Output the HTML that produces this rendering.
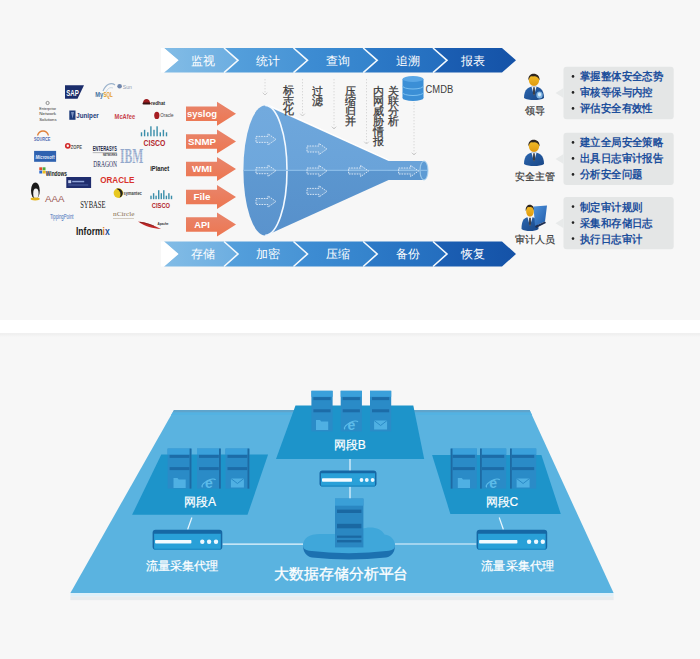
<!DOCTYPE html>
<html><head><meta charset="utf-8">
<style>
html,body{margin:0;padding:0;}
body{width:700px;height:659px;overflow:hidden;background:#f7f7f7;position:relative;font-family:"Liberation Sans", sans-serif;}
svg{position:absolute;left:0;top:0;}
.bt{font-family:"Liberation Sans", sans-serif;font-size:12px;fill:#fff;text-anchor:middle;}
.ot{font-family:"Liberation Sans", sans-serif;font-size:9.6px;font-weight:bold;fill:#fff;text-anchor:middle;}
.cm{font-family:"Liberation Sans", sans-serif;font-size:10px;fill:#3c3c3c;}
.pl{font-family:"Liberation Sans", sans-serif;font-size:10px;stroke:#3a3a3a;stroke-width:0.2px;fill:#3a3a3a;text-anchor:middle;}
.bb{font-family:"Liberation Sans", sans-serif;font-size:10.6px;font-weight:bold;fill:#1d4f9c;}
.nt{font-family:"Liberation Sans", sans-serif;font-size:12px;stroke:#fff;stroke-width:0.2px;fill:#fff;text-anchor:middle;}
.ct{font-family:"Liberation Sans", sans-serif;font-size:12px;stroke:#fff;stroke-width:0.2px;fill:#fff;text-anchor:middle;}
.bigt{font-family:"Liberation Sans", sans-serif;font-size:14.8px;stroke:#fff;stroke-width:0.3px;fill:#fff;text-anchor:middle;}
.vt{position:absolute;font-size:10.5px;line-height:10px;color:#383838;width:12px;-webkit-text-stroke:0.25px #383838;}
</style></head><body>
<svg width="700" height="659" viewBox="0 0 700 659">
<defs>
<linearGradient id="seg0" x1="164.0" y1="0" x2="244.0" y2="0" gradientUnits="userSpaceOnUse"><stop offset="0" stop-color="#82bce6"/><stop offset="1" stop-color="#6aace0"/></linearGradient>
<linearGradient id="seg1" x1="224.0" y1="0" x2="304.0" y2="0" gradientUnits="userSpaceOnUse"><stop offset="0" stop-color="#55a0dc"/><stop offset="1" stop-color="#4894d5"/></linearGradient>
<linearGradient id="seg2" x1="293.5" y1="0" x2="373.5" y2="0" gradientUnits="userSpaceOnUse"><stop offset="0" stop-color="#3f8ed4"/><stop offset="1" stop-color="#3483cc"/></linearGradient>
<linearGradient id="seg3" x1="363.2" y1="0" x2="443.2" y2="0" gradientUnits="userSpaceOnUse"><stop offset="0" stop-color="#2d7ac7"/><stop offset="1" stop-color="#246ebf"/></linearGradient>
<linearGradient id="seg4" x1="433.0" y1="0" x2="513.0" y2="0" gradientUnits="userSpaceOnUse"><stop offset="0" stop-color="#1c60b4"/><stop offset="1" stop-color="#1553a8"/></linearGradient>
<linearGradient id="gsuit" x1="0" y1="0" x2="1" y2="1"><stop offset="0" stop-color="#2a66b0"/><stop offset="1" stop-color="#1a4786"/></linearGradient>
<linearGradient id="gface" x1="0" y1="0" x2="0" y2="1"><stop offset="0" stop-color="#f4c02a"/><stop offset="1" stop-color="#e09a10"/></linearGradient>
<linearGradient id="glap" x1="0" y1="0" x2="1" y2="1"><stop offset="0" stop-color="#4f93dc"/><stop offset="1" stop-color="#1f5aa8"/></linearGradient>
<linearGradient id="gshadow" x1="0" y1="0" x2="0" y2="1"><stop offset="0" stop-color="#ededed"/><stop offset="1" stop-color="#f7f7f7"/></linearGradient>
<linearGradient id="gor" x1="0" y1="0" x2="0" y2="1"><stop offset="0" stop-color="#e8856c"/><stop offset="1" stop-color="#ed7650"/></linearGradient>
<linearGradient id="gbar" x1="164" y1="0" x2="516" y2="0" gradientUnits="userSpaceOnUse">
<stop offset="0" stop-color="#7ab8e5"/><stop offset="0.5" stop-color="#3f8fd3"/><stop offset="1" stop-color="#1553a8"/>
</linearGradient>
<linearGradient id="gfun" x1="0" y1="105" x2="0" y2="235" gradientUnits="userSpaceOnUse">
<stop offset="0" stop-color="#6ea7dc"/><stop offset="0.5" stop-color="#6aa3d9"/><stop offset="0.5" stop-color="#5b96cf"/><stop offset="1" stop-color="#5790cb"/>
</linearGradient>
<linearGradient id="gtube" x1="0" y1="161" x2="0" y2="180" gradientUnits="userSpaceOnUse">
<stop offset="0" stop-color="#6aa3d9"/><stop offset="0.5" stop-color="#6aa3d9"/><stop offset="0.5" stop-color="#5b96cf"/><stop offset="1" stop-color="#5b96cf"/>
</linearGradient>
<linearGradient id="gell" x1="0" y1="105" x2="0" y2="235" gradientUnits="userSpaceOnUse">
<stop offset="0" stop-color="#72aade"/><stop offset="0.5" stop-color="#6ea7dc"/><stop offset="0.5" stop-color="#5f99d1"/><stop offset="1" stop-color="#5a93cd"/>
</linearGradient>
</defs>
<rect x="0" y="320" width="700" height="13.2" fill="#ffffff"/>
<rect x="0" y="333.2" width="700" height="4" fill="url(#gshadow)"/>
<polygon points="164.0,48.0 224.0,48.0 238.0,60.3 224.0,72.6 164.0,72.6 178.0,60.3" fill="url(#seg0)"/>
<polygon points="224.0,48.0 293.5,48.0 307.5,60.3 293.5,72.6 224.0,72.6 238.0,60.3" fill="url(#seg1)"/>
<polygon points="293.5,48.0 363.2,48.0 377.2,60.3 363.2,72.6 293.5,72.6 307.5,60.3" fill="url(#seg2)"/>
<polygon points="363.2,48.0 433.0,48.0 447.0,60.3 433.0,72.6 363.2,72.6 377.2,60.3" fill="url(#seg3)"/>
<polygon points="433.0,48.0 502.0,48.0 516.0,60.3 502.0,72.6 433.0,72.6 447.0,60.3" fill="url(#seg4)"/>
<polyline points="224.0,48.0 238.0,60.3 224.0,72.6" fill="none" stroke="#f4f9fd" stroke-width="1.6"/>
<polyline points="293.5,48.0 307.5,60.3 293.5,72.6" fill="none" stroke="#f4f9fd" stroke-width="1.6"/>
<polyline points="363.2,48.0 377.2,60.3 363.2,72.6" fill="none" stroke="#f4f9fd" stroke-width="1.6"/>
<polyline points="433.0,48.0 447.0,60.3 433.0,72.6" fill="none" stroke="#f4f9fd" stroke-width="1.6"/>
<polygon points="161.0,48.0 164.0,48.0 178.6,60.3 164.0,72.6 161.0,72.6" fill="#ffffff"/>
<text x="203.0" y="64.9" class="bt" textLength="24" lengthAdjust="spacingAndGlyphs">监视</text>
<text x="267.5" y="64.9" class="bt" textLength="24" lengthAdjust="spacingAndGlyphs">统计</text>
<text x="337.5" y="64.9" class="bt" textLength="24" lengthAdjust="spacingAndGlyphs">查询</text>
<text x="407.5" y="64.9" class="bt" textLength="24" lengthAdjust="spacingAndGlyphs">追溯</text>
<text x="473.0" y="64.9" class="bt" textLength="24" lengthAdjust="spacingAndGlyphs">报表</text>
<polygon points="164.0,241.5 224.0,241.5 238.0,254.0 224.0,266.5 164.0,266.5 178.0,254.0" fill="url(#seg0)"/>
<polygon points="224.0,241.5 293.5,241.5 307.5,254.0 293.5,266.5 224.0,266.5 238.0,254.0" fill="url(#seg1)"/>
<polygon points="293.5,241.5 363.2,241.5 377.2,254.0 363.2,266.5 293.5,266.5 307.5,254.0" fill="url(#seg2)"/>
<polygon points="363.2,241.5 433.0,241.5 447.0,254.0 433.0,266.5 363.2,266.5 377.2,254.0" fill="url(#seg3)"/>
<polygon points="433.0,241.5 502.0,241.5 516.0,254.0 502.0,266.5 433.0,266.5 447.0,254.0" fill="url(#seg4)"/>
<polyline points="224.0,241.5 238.0,254.0 224.0,266.5" fill="none" stroke="#f4f9fd" stroke-width="1.6"/>
<polyline points="293.5,241.5 307.5,254.0 293.5,266.5" fill="none" stroke="#f4f9fd" stroke-width="1.6"/>
<polyline points="363.2,241.5 377.2,254.0 363.2,266.5" fill="none" stroke="#f4f9fd" stroke-width="1.6"/>
<polyline points="433.0,241.5 447.0,254.0 433.0,266.5" fill="none" stroke="#f4f9fd" stroke-width="1.6"/>
<polygon points="161.0,241.5 164.0,241.5 178.6,254.0 164.0,266.5 161.0,266.5" fill="#ffffff"/>
<text x="203.0" y="257.9" class="bt" textLength="24" lengthAdjust="spacingAndGlyphs">存储</text>
<text x="267.5" y="257.9" class="bt" textLength="24" lengthAdjust="spacingAndGlyphs">加密</text>
<text x="337.5" y="257.9" class="bt" textLength="24" lengthAdjust="spacingAndGlyphs">压缩</text>
<text x="407.5" y="257.9" class="bt" textLength="24" lengthAdjust="spacingAndGlyphs">备份</text>
<text x="473.0" y="257.9" class="bt" textLength="24" lengthAdjust="spacingAndGlyphs">恢复</text>
<polygon points="65,85.3 84,85.3 77.5,98.7 65,98.7" fill="#1b2d6b"/>
<text x="66.2" y="95.6" textLength="12.5" lengthAdjust="spacingAndGlyphs" style="font-family:'Liberation Sans', sans-serif;font-size:9.0px;fill:#fff;font-weight:bold;">SAP</text>
<path d="M103,91 C106,84 111,82 115,85" fill="none" stroke="#9bb3cc" stroke-width="1.1"/>
<path d="M106,92 C108,88 110,87 113,88" fill="none" stroke="#c0cfe0" stroke-width="0.8"/>
<text x="95.3" y="96.6" textLength="8.0" lengthAdjust="spacingAndGlyphs" style="font-family:'Liberation Sans', sans-serif;font-size:7.0px;fill:#44729f;font-weight:bold;">My</text>
<text x="103.5" y="96.6" textLength="9.2" lengthAdjust="spacingAndGlyphs" style="font-family:'Liberation Sans', sans-serif;font-size:7.0px;fill:#e39a2a;font-weight:bold;">SQL</text>
<circle cx="119.6" cy="86.2" r="2.3" fill="#6f86ad"/>
<text x="122.8" y="88.6" textLength="9.2" lengthAdjust="spacingAndGlyphs" style="font-family:'Liberation Sans', sans-serif;font-size:6.0px;fill:#8e9ab0;">Sun</text>
<path d="M143,103 C143,97.5 150,97.5 150,103 Z" fill="#9b1b1e"/>
<rect x="142.5" y="102.4" width="8.2" height="2.2" rx="1" fill="#3a1212"/>
<text x="151.0" y="105.3" textLength="14.0" lengthAdjust="spacingAndGlyphs" style="font-family:'Liberation Sans', sans-serif;font-size:6.2px;fill:#2a2a2a;font-weight:bold;">redhat</text>
<circle cx="47.6" cy="103" r="1.6" fill="none" stroke="#666" stroke-width="0.7"/>
<text x="39.3" y="110.2" textLength="16.8" lengthAdjust="spacingAndGlyphs" style="font-family:'Liberation Sans', sans-serif;font-size:3.8px;fill:#333;">Enterprise</text>
<text x="39.3" y="115.3" textLength="16.8" lengthAdjust="spacingAndGlyphs" style="font-family:'Liberation Sans', sans-serif;font-size:3.8px;fill:#333;">Network</text>
<text x="39.3" y="120.6" textLength="17.2" lengthAdjust="spacingAndGlyphs" style="font-family:'Liberation Sans', sans-serif;font-size:3.8px;fill:#333;">Solutions</text>
<rect x="69.3" y="110.5" width="6.2" height="9.3" fill="#1d3b7a"/>
<path d="M71,112 L74,112 L72.5,118.5 Z" fill="#7b93c2"/>
<text x="76.3" y="118.2" textLength="22.5" lengthAdjust="spacingAndGlyphs" style="font-family:'Liberation Sans', sans-serif;font-size:7.6px;fill:#1d3b7a;font-weight:bold;">Juniper</text>
<text x="114.6" y="118.8" textLength="20.5" lengthAdjust="spacingAndGlyphs" style="font-family:'Liberation Sans', sans-serif;font-size:6.4px;fill:#c8424a;font-weight:bold;">McAfee</text>
<ellipse cx="156.8" cy="115.4" rx="2.6" ry="3.7" fill="#a61e22"/>
<text x="160.3" y="117.4" textLength="13.2" lengthAdjust="spacingAndGlyphs" style="font-family:'Liberation Sans', sans-serif;font-size:5.4px;fill:#444;">Oracle</text>
<path d="M37.5,135.5 C39.5,129.5 46.5,129.5 48.5,135.5" fill="none" stroke="#e0803a" stroke-width="1.3"/>
<text x="34.0" y="141.0" textLength="16.4" lengthAdjust="spacingAndGlyphs" style="font-family:'Liberation Sans', sans-serif;font-size:5.2px;fill:#4a66b0;font-weight:bold;">SOURCE</text>
<rect x="140.8" y="132.3" width="1.4" height="4.0" fill="#3a8eaa"/><rect x="143.9" y="129.8" width="1.4" height="6.5" fill="#3a8eaa"/><rect x="147.1" y="132.3" width="1.4" height="4.0" fill="#3a8eaa"/><rect x="150.2" y="126.3" width="1.4" height="10.0" fill="#3a8eaa"/><rect x="153.3" y="129.8" width="1.4" height="6.5" fill="#3a8eaa"/><rect x="156.4" y="126.3" width="1.4" height="10.0" fill="#3a8eaa"/><rect x="159.6" y="132.3" width="1.4" height="4.0" fill="#3a8eaa"/><rect x="162.7" y="129.8" width="1.4" height="6.5" fill="#3a8eaa"/><rect x="165.8" y="132.3" width="1.4" height="4.0" fill="#3a8eaa"/>
<text x="143.5" y="146.3" textLength="21.8" lengthAdjust="spacingAndGlyphs" style="font-family:'Liberation Sans', sans-serif;font-size:8.2px;fill:#b3262c;font-weight:bold;">CISCO</text>
<circle cx="67.8" cy="145.8" r="2.9" fill="#d32a2a"/>
<circle cx="67.8" cy="145.8" r="1.2" fill="#f7f7f7"/>
<text x="70.8" y="148.6" textLength="11.2" lengthAdjust="spacingAndGlyphs" style="font-family:'Liberation Sans', sans-serif;font-size:5.8px;fill:#555;font-weight:bold;">ZOPE</text>
<text x="92.7" y="151.0" textLength="24.2" lengthAdjust="spacingAndGlyphs" style="font-family:'Liberation Sans', sans-serif;font-size:6.6px;fill:#222a4a;font-weight:bold;">ENTERASYS</text>
<rect x="92.7" y="152.4" width="24.2" height="0.7" fill="#999"/>
<text x="103.0" y="156.4" textLength="14.0" lengthAdjust="spacingAndGlyphs" style="font-family:'Liberation Sans', sans-serif;font-size:3.2px;fill:#333;font-weight:bold;">NETWORKS</text>
<text x="93.3" y="166.6" textLength="23.6" lengthAdjust="spacingAndGlyphs" style="font-family:'Liberation Serif', serif;font-size:7.8px;fill:#1d2a55;">DRAGON</text>
<text x="119.9" y="163.0" textLength="23.4" lengthAdjust="spacingAndGlyphs" style="font-family:'Liberation Serif', serif;font-size:20.0px;fill:#93a8cc;font-weight:bold;">IBM</text>
<rect x="119" y="150.5" width="26" height="0.7" fill="#f7f7f7" opacity="0.4"/><rect x="119" y="152.2" width="26" height="0.7" fill="#f7f7f7" opacity="0.4"/><rect x="119" y="153.9" width="26" height="0.7" fill="#f7f7f7" opacity="0.4"/><rect x="119" y="155.6" width="26" height="0.7" fill="#f7f7f7" opacity="0.4"/><rect x="119" y="157.3" width="26" height="0.7" fill="#f7f7f7" opacity="0.4"/><rect x="119" y="159.0" width="26" height="0.7" fill="#f7f7f7" opacity="0.4"/><rect x="119" y="160.7" width="26" height="0.7" fill="#f7f7f7" opacity="0.4"/>
<rect x="34.1" y="150.9" width="22" height="10.9" fill="#2f62b0"/>
<text x="35.6" y="158.5" textLength="19.0" lengthAdjust="spacingAndGlyphs" style="font-family:'Liberation Sans', sans-serif;font-size:5.6px;fill:#e8eefc;font-weight:bold;font-style:italic;">Microsoft</text>
<text x="150.2" y="171.0" textLength="19.0" lengthAdjust="spacingAndGlyphs" style="font-family:'Liberation Sans', sans-serif;font-size:7.4px;fill:#222;font-weight:bold;">iPlanet</text>
<rect x="39.3" y="167.3" width="2.9" height="2.9" fill="#e04a2a"/><rect x="42.6" y="167.3" width="2.9" height="2.9" fill="#4caa3a"/>
<rect x="39.3" y="170.6" width="2.9" height="2.9" fill="#2a6ad0"/><rect x="42.6" y="170.6" width="2.9" height="2.9" fill="#f0c020"/>
<text x="45.8" y="175.6" textLength="21.2" lengthAdjust="spacingAndGlyphs" style="font-family:'Liberation Sans', sans-serif;font-size:7.2px;fill:#222;font-weight:bold;">Windows</text>
<text x="100.2" y="183.3" textLength="34.1" lengthAdjust="spacingAndGlyphs" style="font-family:'Liberation Sans', sans-serif;font-size:8.2px;fill:#d8322b;font-weight:bold;">ORACLE</text>
<rect x="66.3" y="177" width="24.8" height="11" fill="#1f2d6e"/>
<rect x="68.2" y="180.2" width="3" height="3" fill="#c5d0ee"/>
<rect x="72.2" y="180.8" width="12" height="1.5" fill="#8fa3d8"/>
<rect x="68.2" y="184.6" width="20" height="0.8" fill="#5a6fb0"/>
<circle cx="118.4" cy="193.1" r="4.8" fill="#e8c820"/>
<path d="M116.4,188.7 A4.8,4.8 0 0 1 119.5,197.8 A6,6 0 0 0 116.4,188.7 Z" fill="#222"/>
<text x="123.5" y="195.0" textLength="18.3" lengthAdjust="spacingAndGlyphs" style="font-family:'Liberation Sans', sans-serif;font-size:4.8px;fill:#444;font-weight:bold;">symantec</text>
<ellipse cx="35.4" cy="190.6" rx="4.4" ry="8.2" fill="#1a1a1a"/>
<ellipse cx="35.9" cy="193.4" rx="2.7" ry="5" fill="#f2f2f2"/>
<ellipse cx="35.2" cy="199" rx="4.6" ry="1.4" fill="#e3b41c"/>
<text x="45.0" y="202.0" textLength="19.4" lengthAdjust="spacingAndGlyphs" style="font-family:'Liberation Sans', sans-serif;font-size:9.6px;fill:#9a5550;">AAA</text>
<rect x="150.3" y="195.7" width="1.4" height="3.5" fill="#3a8eaa"/><rect x="152.9" y="193.2" width="1.4" height="6.0" fill="#3a8eaa"/><rect x="155.4" y="195.7" width="1.4" height="3.5" fill="#3a8eaa"/><rect x="158.0" y="190.2" width="1.4" height="9.0" fill="#3a8eaa"/><rect x="160.6" y="193.2" width="1.4" height="6.0" fill="#3a8eaa"/><rect x="163.1" y="190.2" width="1.4" height="9.0" fill="#3a8eaa"/><rect x="165.7" y="195.7" width="1.4" height="3.5" fill="#3a8eaa"/><rect x="168.2" y="193.2" width="1.4" height="6.0" fill="#3a8eaa"/><rect x="170.8" y="195.7" width="1.4" height="3.5" fill="#3a8eaa"/>
<text x="151.8" y="207.6" textLength="18.2" lengthAdjust="spacingAndGlyphs" style="font-family:'Liberation Sans', sans-serif;font-size:7.0px;fill:#b3262c;font-weight:bold;">CISCO</text>
<text x="80.2" y="208.2" textLength="25.3" lengthAdjust="spacingAndGlyphs" style="font-family:'Liberation Serif', serif;font-size:10.4px;fill:#1a1a1a;">SYBASE</text>
<text x="113.0" y="216.3" textLength="21.5" lengthAdjust="spacingAndGlyphs" style="font-family:'Liberation Serif', serif;font-size:6.8px;fill:#8a7050;">nCircle</text>
<rect x="113" y="218.2" width="21" height="0.7" fill="#c4b9a8"/>
<text x="49.9" y="219.4" textLength="23.6" lengthAdjust="spacingAndGlyphs" style="font-family:'Liberation Sans', sans-serif;font-size:6.4px;fill:#3d6db8;">TippingPoint</text>
<path d="M138,221.5 C146,222 153,225 161,229 C153,228.5 145,226.5 138,221.5 Z" fill="#c02828"/>
<path d="M140,222.3 C146,223 150,224.5 154,226" fill="none" stroke="#6a1a1a" stroke-width="0.6"/>
<text x="157.5" y="224.8" textLength="11.0" lengthAdjust="spacingAndGlyphs" style="font-family:'Liberation Sans', sans-serif;font-size:3.8px;fill:#333;font-weight:bold;">Apache</text>
<text x="76" y="234.9" textLength="33.7" lengthAdjust="spacingAndGlyphs" style="font-family:'Liberation Sans', sans-serif;font-size:11.8px;font-weight:bold;fill:#1a1a1a">Inform<tspan fill="#e07a20">i</tspan><tspan fill="#1d4f9a">x</tspan></text>
<line x1="265.0" y1="79" x2="265.0" y2="95.0" stroke="#d8d8d8" stroke-width="1" stroke-dasharray="1.4 1.6"/>
<polyline points="262.7,92.7 265.0,95.0 267.3,92.7" fill="none" stroke="#cccccc" stroke-width="1"/>
<line x1="302.5" y1="79" x2="302.5" y2="116.0" stroke="#d8d8d8" stroke-width="1" stroke-dasharray="1.4 1.6"/>
<polyline points="300.2,113.7 302.5,116.0 304.8,113.7" fill="none" stroke="#cccccc" stroke-width="1"/>
<line x1="334.0" y1="79" x2="334.0" y2="129.0" stroke="#d8d8d8" stroke-width="1" stroke-dasharray="1.4 1.6"/>
<polyline points="331.7,126.7 334.0,129.0 336.3,126.7" fill="none" stroke="#cccccc" stroke-width="1"/>
<line x1="366.5" y1="79" x2="366.5" y2="144.0" stroke="#d8d8d8" stroke-width="1" stroke-dasharray="1.4 1.6"/>
<polyline points="364.2,141.7 366.5,144.0 368.8,141.7" fill="none" stroke="#cccccc" stroke-width="1"/>
<line x1="414.0" y1="102" x2="414.0" y2="155.0" stroke="#d8d8d8" stroke-width="1" stroke-dasharray="1.4 1.6"/>
<polyline points="411.7,152.7 414.0,155.0 416.3,152.7" fill="none" stroke="#cccccc" stroke-width="1"/>

<line x1="268" y1="105.2" x2="388.6" y2="160.2" stroke="#ffffff" stroke-width="1.4" opacity="0.9"/>
<polygon points="266,105.4 388.6,161 388.6,180 266,235.4" fill="url(#gfun)"/>
<rect x="388" y="161" width="36" height="19" fill="url(#gtube)"/>
<ellipse cx="424" cy="170.5" rx="4" ry="9.5" fill="#5d9bd4" stroke="#a9d3f0" stroke-width="1"/>
<ellipse cx="265.2" cy="170.4" rx="21.8" ry="65" fill="url(#gell)"/>
<path d="M265.2,105.4 A21.8,65 0 0 1 265.2,235.4" fill="none" stroke="#f3f9ff" stroke-width="1.6"/>
<line x1="244" y1="170.3" x2="428" y2="170.3" stroke="#8fc0ea" stroke-width="1.2" opacity="0.9"/>
<polygon points="256.0,136.4 268.0,136.4 268.0,133.8 276.0,139.4 268.0,145.0 268.0,142.4 256.0,142.4" fill="#ffffff" fill-opacity="0.1" stroke="#e3eefa" stroke-width="1" stroke-dasharray="1.6 1" opacity="0.9"/>
<polygon points="256.0,167.7 268.0,167.7 268.0,165.1 276.0,170.7 268.0,176.3 268.0,173.7 256.0,173.7" fill="#ffffff" fill-opacity="0.1" stroke="#e3eefa" stroke-width="1" stroke-dasharray="1.6 1" opacity="0.9"/>
<polygon points="256.0,198.5 268.0,198.5 268.0,195.9 276.0,201.5 268.0,207.1 268.0,204.5 256.0,204.5" fill="#ffffff" fill-opacity="0.1" stroke="#e3eefa" stroke-width="1" stroke-dasharray="1.6 1" opacity="0.9"/>
<polygon points="307.0,146.0 319.0,146.0 319.0,143.4 327.0,149.0 319.0,154.6 319.0,152.0 307.0,152.0" fill="#ffffff" fill-opacity="0.1" stroke="#e3eefa" stroke-width="1" stroke-dasharray="1.6 1" opacity="0.9"/>
<polygon points="307.0,168.0 319.0,168.0 319.0,165.4 327.0,171.0 319.0,176.6 319.0,174.0 307.0,174.0" fill="#ffffff" fill-opacity="0.1" stroke="#e3eefa" stroke-width="1" stroke-dasharray="1.6 1" opacity="0.9"/>
<polygon points="307.0,188.4 319.0,188.4 319.0,185.8 327.0,191.4 319.0,197.0 319.0,194.4 307.0,194.4" fill="#ffffff" fill-opacity="0.1" stroke="#e3eefa" stroke-width="1" stroke-dasharray="1.6 1" opacity="0.9"/>
<polygon points="348.6,168.0 360.6,168.0 360.6,165.4 368.6,171.0 360.6,176.6 360.6,174.0 348.6,174.0" fill="#ffffff" fill-opacity="0.1" stroke="#e3eefa" stroke-width="1" stroke-dasharray="1.6 1" opacity="0.9"/>
<polygon points="398.6,168.0 410.6,168.0 410.6,165.4 418.6,171.0 410.6,176.6 410.6,174.0 398.6,174.0" fill="#ffffff" fill-opacity="0.1" stroke="#e3eefa" stroke-width="1" stroke-dasharray="1.6 1" opacity="0.9"/>
<polygon points="186.0,106.5 217.0,106.5 217.0,101.8 236.0,113.8 217.0,125.8 217.0,121.1 186.0,121.1" fill="url(#gor)"/>
<text x="202" y="116.9" class="ot" textLength="30.0" lengthAdjust="spacingAndGlyphs">syslog</text>
<polygon points="186.0,134.2 217.0,134.2 217.0,129.5 236.0,141.5 217.0,153.5 217.0,148.8 186.0,148.8" fill="url(#gor)"/>
<text x="202" y="144.6" class="ot" textLength="28.0" lengthAdjust="spacingAndGlyphs">SNMP</text>
<polygon points="186.0,161.7 217.0,161.7 217.0,157.0 236.0,169.0 217.0,181.0 217.0,176.3 186.0,176.3" fill="url(#gor)"/>
<text x="202" y="172.1" class="ot" textLength="20.0" lengthAdjust="spacingAndGlyphs">WMI</text>
<polygon points="186.0,189.7 217.0,189.7 217.0,185.0 236.0,197.0 217.0,209.0 217.0,204.3 186.0,204.3" fill="url(#gor)"/>
<text x="202" y="200.1" class="ot" textLength="17.0" lengthAdjust="spacingAndGlyphs">File</text>
<polygon points="186.0,217.2 217.0,217.2 217.0,212.5 236.0,224.5 217.0,236.5 217.0,231.8 186.0,231.8" fill="url(#gor)"/>
<text x="202" y="227.6" class="ot" textLength="15.5" lengthAdjust="spacingAndGlyphs">API</text>

<g>
<rect x="402.5" y="79" width="21" height="19" fill="#3b8fd6"/>
<ellipse cx="413" cy="98" rx="10.5" ry="3" fill="#3b8fd6"/>
<ellipse cx="413" cy="79" rx="10.5" ry="3" fill="#5aa7e6"/>
<path d="M402.5,86 A10.5,3 0 0 0 423.5,86" fill="none" stroke="#7cc0f0" stroke-width="1"/>
<path d="M402.5,92.5 A10.5,3 0 0 0 423.5,92.5" fill="none" stroke="#7cc0f0" stroke-width="1"/>
</g>
<text x="425.6" y="92.6" class="cm" textLength="27.6" lengthAdjust="spacingAndGlyphs">CMDB</text>

<path d="M524.0,98.0 C524.0,88.4 529.0,86.4 534.0,86.4 C539.0,86.4 544.0,88.4 544.0,98.0 C540.0,100.8 528.0,100.8 524.0,98.0 Z" fill="url(#gsuit)"/>
<polygon points="531.4,86.4 536.6,86.4 534.0,95.4" fill="#f4f6fa"/>
<polygon points="533.2,87.2 534.8,87.2 535.1,93.4 534.0,95.9 532.9,93.4" fill="#3c3f48"/>
<path d="M528.8,79.2 C528.8,72.5 539.2,72.5 539.2,79.2 C539.2,84.4 536.0,85.9 534.0,85.9 C532.0,85.9 528.8,84.4 528.8,79.2 Z" fill="url(#gface)"/>
<path d="M528.4,79.7 C528.0,71.8 540.0,71.8 539.6,80.4 C538.3,76.1 535.0,75.8 533.0,76.4 C530.0,75.5 529.6,77.3 528.4,80.4 Z" fill="#2e2620"/>
<ellipse cx="539.5" cy="95.0" rx="3.2" ry="3.6" fill="#7fb4e2"/>
<ellipse cx="539.5" cy="94.5" rx="1.6" ry="1.9" fill="#d9ecfa"/>
<text x="534.5" y="113.8" class="pl" textLength="20" lengthAdjust="spacingAndGlyphs">领导</text>
<rect x="563.5" y="66.8" width="110.2" height="52.5" rx="3" fill="#e4e6e6"/>
<polygon points="563.6,88.0 555.5,93.0 563.6,98.0" fill="#e8eaea"/>
<circle cx="573" cy="76.4" r="1.3" fill="#222"/>
<text x="580" y="80.3" class="bb" textLength="83.3" lengthAdjust="spacingAndGlyphs">掌握整体安全态势</text>
<circle cx="573" cy="92.4" r="1.3" fill="#222"/>
<text x="580" y="96.3" class="bb" textLength="72.8" lengthAdjust="spacingAndGlyphs">审核等保与内控</text>
<circle cx="573" cy="108.4" r="1.3" fill="#222"/>
<text x="580" y="112.3" class="bb" textLength="72.8" lengthAdjust="spacingAndGlyphs">评估安全有效性</text>
<path d="M524.0,164.0 C524.0,154.4 529.0,152.4 534.0,152.4 C539.0,152.4 544.0,154.4 544.0,164.0 C540.0,166.8 528.0,166.8 524.0,164.0 Z" fill="url(#gsuit)"/>
<polygon points="531.4,152.4 536.6,152.4 534.0,161.4" fill="#f4f6fa"/>
<polygon points="533.2,153.2 534.8,153.2 535.1,159.4 534.0,161.9 532.9,159.4" fill="#3c3f48"/>
<path d="M528.8,145.2 C528.8,138.5 539.2,138.5 539.2,145.2 C539.2,150.4 536.0,151.9 534.0,151.9 C532.0,151.9 528.8,150.4 528.8,145.2 Z" fill="url(#gface)"/>
<path d="M528.4,145.7 C528.0,137.8 540.0,137.8 539.6,146.4 C538.3,142.1 535.0,141.8 533.0,142.4 C530.0,141.5 529.6,143.3 528.4,146.4 Z" fill="#2e2620"/>
<text x="534.6" y="180" class="pl" textLength="40" lengthAdjust="spacingAndGlyphs">安全主管</text>
<rect x="563.5" y="132.8" width="110.2" height="52.1" rx="3" fill="#e4e6e6"/>
<polygon points="563.6,153.9 555.5,158.9 563.6,163.9" fill="#e8eaea"/>
<circle cx="573" cy="142.4" r="1.3" fill="#222"/>
<text x="580" y="146.3" class="bb" textLength="83.3" lengthAdjust="spacingAndGlyphs">建立全局安全策略</text>
<circle cx="573" cy="158.4" r="1.3" fill="#222"/>
<text x="580" y="162.3" class="bb" textLength="83.3" lengthAdjust="spacingAndGlyphs">出具日志审计报告</text>
<circle cx="573" cy="174.4" r="1.3" fill="#222"/>
<text x="580" y="178.3" class="bb" textLength="62.4" lengthAdjust="spacingAndGlyphs">分析安全问题</text>
<path d="M521.5,229.0 C521.5,219.0 525.0,217.0 530.0,217.0 C535.0,217.0 538.5,219.0 538.5,229.0 C535.1,231.8 524.9,231.8 521.5,229.0 Z" fill="url(#gsuit)"/>
<polygon points="527.4,217.0 532.6,217.0 530.0,226.0" fill="#f4f6fa"/>
<polygon points="529.2,217.8 530.8,217.8 531.1,224.0 530.0,226.5 528.9,224.0" fill="#3c3f48"/>
<path d="M526.1,210.0 C526.1,203.5 533.9,203.5 533.9,210.0 C533.9,215.0 532.0,216.5 530.0,216.5 C528.0,216.5 526.1,215.0 526.1,210.0 Z" fill="url(#gface)"/>
<path d="M525.7,210.5 C525.3,202.8 534.7,202.8 534.3,211.2 C533.0,207.0 531.0,206.7 529.0,207.3 C527.3,206.4 526.9,208.2 525.7,211.2 Z" fill="#2e2620"/>
<polygon points="533.5,206.5 547.0,205.5 545.0,221.5 535.0,226.0" fill="url(#glap)"/>
<polygon points="535.0,226.0 545.0,221.5 546.0,223.0 536.0,228.0" fill="#1f2f52"/>
<text x="534.6" y="242.7" class="pl" textLength="40" lengthAdjust="spacingAndGlyphs">审计人员</text>
<rect x="563.5" y="197.0" width="110.2" height="52.3" rx="3" fill="#e4e6e6"/>
<polygon points="563.6,218.2 555.5,223.2 563.6,228.2" fill="#e8eaea"/>
<circle cx="573" cy="206.6" r="1.3" fill="#222"/>
<text x="580" y="210.5" class="bb" textLength="62.4" lengthAdjust="spacingAndGlyphs">制定审计规则</text>
<circle cx="573" cy="222.6" r="1.3" fill="#222"/>
<text x="580" y="226.5" class="bb" textLength="72.8" lengthAdjust="spacingAndGlyphs">采集和存储日志</text>
<circle cx="573" cy="238.6" r="1.3" fill="#222"/>
<text x="580" y="242.5" class="bb" textLength="62.4" lengthAdjust="spacingAndGlyphs">执行日志审计</text>

<polygon points="70.4,596.5 613.6,596.5 613.6,593 70.4,593" fill="#ddf0f9"/>
<rect x="70.4" y="596.5" width="543.2" height="3.6" fill="#e8ecee"/>
<polygon points="174,410 529.6,410 613.6,593 70.4,593" fill="#5ab3e0"/>
<polygon points="174,410 529.6,410 530.8,412.5 172.6,412.5" fill="#5ea4cc"/>
<polygon points="172.6,412.5 530.8,412.5 532,415 171.1,415" fill="#53b2e2"/>
<!-- network B -->
<polygon points="295.5,405.5 413.3,405.5 424.2,459 276,459" fill="#1d94ca"/>
<rect x="311.4" y="390.8" width="21.2" height="40.6" fill="#2a8bc7"/>
<rect x="311.4" y="390.8" width="21.2" height="6" fill="#3aa0db"/>
<rect x="313.4" y="397.1" width="17.2" height="3" fill="#1c6ca8"/>
<rect x="313.4" y="409.3" width="17.2" height="3" fill="#1c6ca8"/>
<path d="M316.0,420.0 h4 l1.2,1.5 h7 v8.5 h-12.2 Z" fill="#4fb0e3"/>
<rect x="340.7" y="390.8" width="21.2" height="40.6" fill="#2a8bc7"/>
<rect x="340.7" y="390.8" width="21.2" height="6" fill="#3aa0db"/>
<rect x="342.7" y="397.1" width="17.2" height="3" fill="#1c6ca8"/>
<rect x="342.7" y="409.3" width="17.2" height="3" fill="#1c6ca8"/>
<text x="351.3" y="429.8" style="font-family:'Liberation Sans', sans-serif;font-size:14px;font-weight:bold;fill:#5cbbe9;text-anchor:middle">e</text><ellipse cx="351.3" cy="425.5" rx="7.5" ry="3.2" transform="rotate(-28 351.3 425.5)" fill="none" stroke="#5cbbe9" stroke-width="1.2" stroke-dasharray="19 40" stroke-dashoffset="-17"/>
<rect x="370.0" y="390.8" width="21.2" height="40.6" fill="#2a8bc7"/>
<rect x="370.0" y="390.8" width="21.2" height="6" fill="#3aa0db"/>
<rect x="372.0" y="397.1" width="17.2" height="3" fill="#1c6ca8"/>
<rect x="372.0" y="409.3" width="17.2" height="3" fill="#1c6ca8"/>
<rect x="374.1" y="420.5" width="13" height="9" fill="#4fb0e3"/><polyline points="374.1,420.5 380.6,425.5 387.1,420.5" fill="none" stroke="#2a8bc7" stroke-width="1"/>
<text x="349.8" y="448.8" class="nt" textLength="32" lengthAdjust="spacingAndGlyphs">网段B</text>
<!-- network A -->
<polygon points="161.3,454.6 268.1,454.6 247.5,514.8 132.1,514.8" fill="#1d94ca"/>
<rect x="167.6" y="448.6" width="23.8" height="40.0" fill="#2a8bc7"/>
<rect x="167.6" y="448.6" width="23.8" height="6" fill="#3aa0db"/>
<rect x="169.6" y="454.9" width="19.8" height="3" fill="#1c6ca8"/>
<rect x="169.6" y="467.1" width="19.8" height="3" fill="#1c6ca8"/>
<rect x="189.6" y="448.6" width="1.8" height="40.0" fill="#1d6aa3"/>
<path d="M173.5,478.0 h4 l1.2,1.5 h7 v8.5 h-12.2 Z" fill="#4fb0e3"/>
<rect x="197.0" y="448.6" width="23.8" height="40.0" fill="#2a8bc7"/>
<rect x="197.0" y="448.6" width="23.8" height="6" fill="#3aa0db"/>
<rect x="199.0" y="454.9" width="19.8" height="3" fill="#1c6ca8"/>
<rect x="199.0" y="467.1" width="19.8" height="3" fill="#1c6ca8"/>
<rect x="219.0" y="448.6" width="1.8" height="40.0" fill="#1d6aa3"/>
<text x="208.9" y="487.8" style="font-family:'Liberation Sans', sans-serif;font-size:14px;font-weight:bold;fill:#5cbbe9;text-anchor:middle">e</text><ellipse cx="208.9" cy="483.5" rx="7.5" ry="3.2" transform="rotate(-28 208.9 483.5)" fill="none" stroke="#5cbbe9" stroke-width="1.2" stroke-dasharray="19 40" stroke-dashoffset="-17"/>
<rect x="225.5" y="448.6" width="23.8" height="40.0" fill="#2a8bc7"/>
<rect x="225.5" y="448.6" width="23.8" height="6" fill="#3aa0db"/>
<rect x="227.5" y="454.9" width="19.8" height="3" fill="#1c6ca8"/>
<rect x="227.5" y="467.1" width="19.8" height="3" fill="#1c6ca8"/>
<rect x="247.5" y="448.6" width="1.8" height="40.0" fill="#1d6aa3"/>
<rect x="230.9" y="478.5" width="13" height="9" fill="#4fb0e3"/><polyline points="230.9,478.5 237.4,483.5 243.9,478.5" fill="none" stroke="#2a8bc7" stroke-width="1"/>
<text x="199.9" y="506.2" class="nt" textLength="32" lengthAdjust="spacingAndGlyphs">网段A</text>
<!-- network C -->
<polygon points="432.1,455 541.4,455 560.8,514 450.4,514" fill="#1d94ca"/>
<rect x="450.7" y="448.6" width="26.2" height="40.0" fill="#2a8bc7"/>
<rect x="450.7" y="448.6" width="26.2" height="6" fill="#3aa0db"/>
<rect x="452.7" y="454.9" width="22.2" height="3" fill="#1c6ca8"/>
<rect x="452.7" y="467.1" width="22.2" height="3" fill="#1c6ca8"/>
<rect x="450.7" y="448.6" width="1.8" height="40.0" fill="#1d6aa3"/>
<path d="M457.8,478.0 h4 l1.2,1.5 h7 v8.5 h-12.2 Z" fill="#4fb0e3"/>
<rect x="480.0" y="448.6" width="26.2" height="40.0" fill="#2a8bc7"/>
<rect x="480.0" y="448.6" width="26.2" height="6" fill="#3aa0db"/>
<rect x="482.0" y="454.9" width="22.2" height="3" fill="#1c6ca8"/>
<rect x="482.0" y="467.1" width="22.2" height="3" fill="#1c6ca8"/>
<rect x="480.0" y="448.6" width="1.8" height="40.0" fill="#1d6aa3"/>
<text x="493.1" y="487.8" style="font-family:'Liberation Sans', sans-serif;font-size:14px;font-weight:bold;fill:#5cbbe9;text-anchor:middle">e</text><ellipse cx="493.1" cy="483.5" rx="7.5" ry="3.2" transform="rotate(-28 493.1 483.5)" fill="none" stroke="#5cbbe9" stroke-width="1.2" stroke-dasharray="19 40" stroke-dashoffset="-17"/>
<rect x="510.0" y="448.6" width="26.2" height="40.0" fill="#2a8bc7"/>
<rect x="510.0" y="448.6" width="26.2" height="6" fill="#3aa0db"/>
<rect x="512.0" y="454.9" width="22.2" height="3" fill="#1c6ca8"/>
<rect x="512.0" y="467.1" width="22.2" height="3" fill="#1c6ca8"/>
<rect x="510.0" y="448.6" width="1.8" height="40.0" fill="#1d6aa3"/>
<rect x="516.6" y="478.5" width="13" height="9" fill="#4fb0e3"/><polyline points="516.6,478.5 523.1,483.5 529.6,478.5" fill="none" stroke="#2a8bc7" stroke-width="1"/>
<text x="502" y="506.2" class="nt" textLength="32.5" lengthAdjust="spacingAndGlyphs">网段C</text>
<!-- links -->
<line x1="350" y1="459" x2="350" y2="471" stroke="#eaf6fd" stroke-width="1.2"/>
<line x1="350" y1="486" x2="350" y2="500" stroke="#eaf6fd" stroke-width="1.2"/>
<line x1="191.9" y1="517.5" x2="187.6" y2="529.5" stroke="#eaf6fd" stroke-width="1.2"/>
<line x1="499.2" y1="517.5" x2="503.4" y2="529.5" stroke="#eaf6fd" stroke-width="1.2"/>
<line x1="222.5" y1="544.2" x2="303" y2="544.2" stroke="#eaf6fd" stroke-width="1.2"/>
<line x1="395" y1="544" x2="476.5" y2="544" stroke="#eaf6fd" stroke-width="1.2"/>
<rect x="152.6" y="529.7" width="69.7" height="20.1" rx="3" fill="#1668a5"/>
<path d="M154.1,533.7 H220.8 V547.8 Q220.8,549.8 218.8,549.8 H156.1 Q154.1,549.8 154.1,547.8 Z" fill="#29a0d8"/>
<rect x="154.1" y="548.6" width="66.7" height="1.2" fill="#1f8cc6"/>
<rect x="155.1" y="540.0" width="36.3" height="3.6" rx="0.8" fill="#f5fbff"/>
<circle cx="202.3" cy="541.8" r="2.2" fill="#eef8ff"/>
<circle cx="209.1" cy="541.8" r="2.2" fill="#eef8ff"/>
<circle cx="216.0" cy="541.8" r="2.2" fill="#eef8ff"/>
<rect x="319.5" y="470.6" width="57.0" height="15.9" rx="3" fill="#1668a5"/>
<path d="M321.0,473.2 H375.0 V484.5 Q375.0,486.5 373.0,486.5 H323.0 Q321.0,486.5 321.0,484.5 Z" fill="#29a0d8"/>
<rect x="321.0" y="485.3" width="54.0" height="1.2" fill="#1f8cc6"/>
<rect x="322.0" y="478.2" width="30.0" height="3.6" rx="0.8" fill="#f5fbff"/>
<circle cx="361.5" cy="480.0" r="1.9" fill="#eef8ff"/>
<circle cx="366.8" cy="480.0" r="1.9" fill="#eef8ff"/>
<circle cx="372.6" cy="480.0" r="1.9" fill="#eef8ff"/>
<rect x="476.6" y="529.7" width="70.6" height="20.1" rx="3" fill="#1668a5"/>
<path d="M478.1,533.7 H545.7 V547.8 Q545.7,549.8 543.7,549.8 H480.1 Q478.1,549.8 478.1,547.8 Z" fill="#29a0d8"/>
<rect x="478.1" y="548.6" width="67.6" height="1.2" fill="#1f8cc6"/>
<rect x="479.1" y="540.0" width="38.3" height="3.6" rx="0.8" fill="#f5fbff"/>
<circle cx="529.1" cy="541.8" r="2.2" fill="#eef8ff"/>
<circle cx="536.1" cy="541.8" r="2.2" fill="#eef8ff"/>
<circle cx="542.8" cy="541.8" r="2.2" fill="#eef8ff"/>
<!-- cloud + central server -->
<path d="M303,545 C303,552 306,556 312,557.6 Q349,561.5 386,557.6 C392,556 395,552 395,545 Z" fill="#1c71b0"/>
<path d="M303,546 C303,538 309,534 320,534 L356,534 C359,529.5 364,527.5 370,527.5 C377,527.5 382,530 384.5,534.5 C391,535.5 395,539.5 395,546 C395,548.5 393,550 389,550.8 Q349,555.5 309,550.8 C305,550 303,548.5 303,546 Z" fill="#3fa7da"/>
<rect x="335" y="498.6" width="28.4" height="48.8" fill="#2a87c2"/>
<rect x="335" y="498.6" width="28.4" height="7.1" fill="#3a9fd7"/>
<rect x="337" y="509.6" width="24.4" height="3.4" fill="#1a68a2"/>
<rect x="337" y="523.8" width="24.4" height="4.5" fill="#1a68a2"/>
<rect x="337" y="535.6" width="24.4" height="2.2" fill="#1a68a2"/>
<rect x="337" y="540" width="24.4" height="2.4" fill="#1a68a2"/>
<text x="341.3" y="579.3" class="bigt" textLength="134" lengthAdjust="spacingAndGlyphs">大数据存储分析平台</text>
<text x="182" y="569.5" class="ct" textLength="73" lengthAdjust="spacingAndGlyphs">流量采集代理</text>
<text x="517.7" y="569.5" class="ct" textLength="73" lengthAdjust="spacingAndGlyphs">流量采集代理</text>

</svg>
<div class="vt" style="left:282.8px;top:84.6px">标<br>志<br>化</div>
<div class="vt" style="left:312.0px;top:85.6px">过<br>滤</div>
<div class="vt" style="left:345.0px;top:86.4px">压<br>缩<br>归<br>并</div>
<div class="vt" style="left:372.8px;top:85.6px">内<br>网<br>威<br>胁<br>情<br>报</div>
<div class="vt" style="left:387.5px;top:86.4px">关<br>联<br>分<br>析</div>
</body></html>
